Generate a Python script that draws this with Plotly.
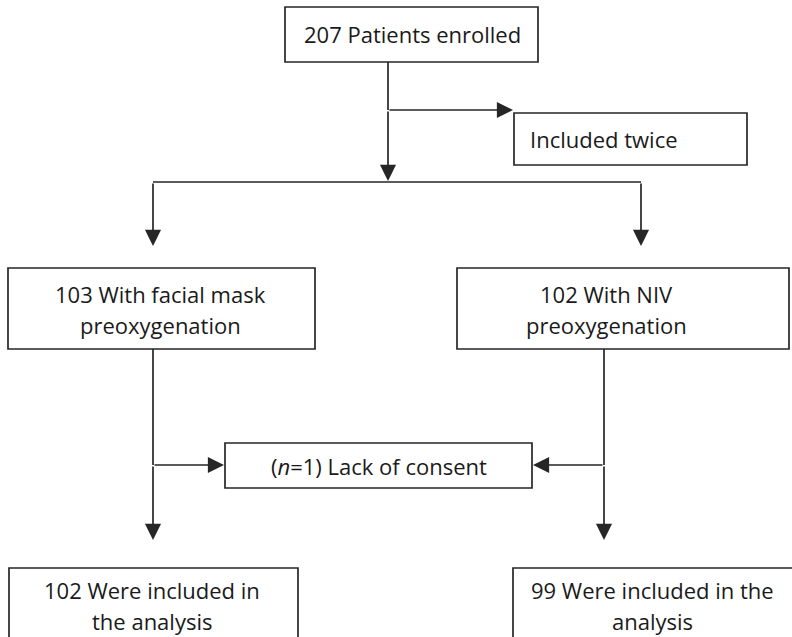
import plotly.graph_objects as go

# Flowchart content
box_labels = [
    "207 Patients enrolled",
    "Included twice",
    "103 With facial mask<br>preoxygenation",
    "102 With NIV<br>preoxygenation",
    "(<i>n</i>=1) Lack of consent",
    "102 Were included in<br>the analysis",
    "99 Were included in the<br>analysis",
]

W, H = 792, 637
LINE = "#262626"
LW = 1.7
LINE_GAP = 31
FONT = dict(family="Open Sans, Lato, sans-serif", size=22, color="#1a1a1a")

# box geometry: (x0, y0, x1, y1, text_x, text_y, anchor)
boxes = [
    (285, 7, 538, 62, 412, 34, "center"),
    (514, 113, 747, 165, 528, 139, "left"),
    (8, 268, 315, 349, 160, 309, "center"),
    (457, 268, 789, 349, 606, 309, "center"),
    (225, 443, 532, 488, 379, 466, "center"),
    (9, 568, 298, 700, 152, 605, "center"),
    (513, 568, 800, 700, 652, 605, "center"),
]

fig = go.Figure()
fig.add_trace(go.Scatter(x=[0, W], y=[0, H], mode="markers",
                         marker=dict(opacity=0), hoverinfo="skip", showlegend=False))

shapes = []
annotations = []
for (x0, y0, x1, y1, tx, ty, anc), label in zip(boxes, box_labels):
    shapes.append(dict(type="rect", xref="x", yref="y", x0=x0, y0=y0, x1=x1, y1=y1,
                       line=dict(color=LINE, width=LW), fillcolor="white", layer="below"))
    parts = label.split("<br>")
    n = len(parts)
    for i, part in enumerate(parts):
        yy = ty + (i - (n - 1) / 2) * LINE_GAP
        annotations.append(dict(x=tx, y=yy, xref="x", yref="y", text=part, showarrow=False,
                                xanchor=anc, yanchor="middle", align="center", font=FONT))

# plain connector lines
lines = [
    (388, 62, 388, 110),
    (153, 182, 641, 182),
    (153, 349, 153, 465),
    (604, 349, 604, 465),
]
for x0, y0, x1, y1 in lines:
    shapes.append(dict(type="line", xref="x", yref="y", x0=x0, y0=y0, x1=x1, y1=y1,
                       line=dict(color=LINE, width=LW)))

# arrows: (tail_x, tail_y, head_x, head_y)
arrows = [
    (388, 110, 513, 110),
    (388, 110, 388, 181),
    (153, 182, 153, 246),
    (641, 182, 641, 246),
    (153, 465, 224, 465),
    (604, 465, 533, 465),
    (153, 465, 153, 540),
    (604, 465, 604, 540),
]
for ax_, ay_, x_, y_ in arrows:
    annotations.append(dict(x=x_, y=y_, ax=ax_, ay=ay_, xref="x", yref="y",
                            axref="x", ayref="y", text="", showarrow=True,
                            arrowhead=2, arrowsize=1.9, arrowwidth=LW,
                            arrowcolor=LINE, standoff=0, startstandoff=0))

fig.update_layout(
    width=W, height=H,
    margin=dict(l=0, r=0, t=0, b=0),
    paper_bgcolor="white", plot_bgcolor="white",
    xaxis=dict(range=[0, W], visible=False, fixedrange=True),
    yaxis=dict(range=[H, 0], visible=False, fixedrange=True),
    shapes=shapes, annotations=annotations, showlegend=False,
)

fig.write_html("out.html", config={"displayModeBar": False},
               post_script="document.body.style.margin='0';document.body.style.overflow='hidden';")
